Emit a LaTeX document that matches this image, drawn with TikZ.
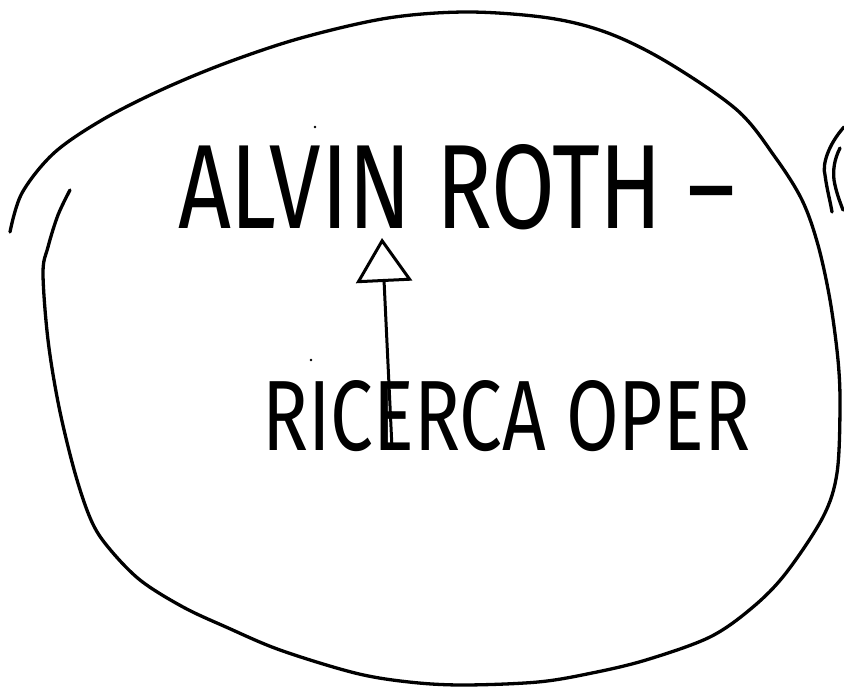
\documentclass[tikz,border=0pt]{standalone}
\usepackage{fontspec}
\newfontfamily\hand{Fira Sans}
\usetikzlibrary{arrows.meta}
\begin{document}
\begin{tikzpicture}[x=1pt,y=-1pt,
  stroke/.style={line width=3.3pt, line cap=round, line join=round},
  label/.style={inner sep=0pt, outer sep=0pt, anchor=south west}]
\useasboundingbox (0,0) rectangle (844,688);
% big open blob
\draw[stroke] plot[smooth, tension=0.55] coordinates {
 (10,232) (22,193) (54,153) (102,120) (161,90) (226,63) (301,38) (388,18)
 (468,12) (549,18) (608,33) (667,62) (737,110) (775,157) (802,200) (818,245)
 (830,300) (838,360) (840,407) (837,473) (823,517) (786,573) (753,607)
 (710,637) (646,660) (592,673) (538,682) (463,685) (409,682) (355,673)
 (280,650) (226,627) (183,607) (140,580) (108,547) (91,520) (75,473)
 (59,407) (48,340) (43,273) (48,247) (58,215) (70,190)};
% partial strokes at right edge
\draw[stroke] (844,127) .. controls (828,145) and (822,165) .. (825,175) .. controls (827,190) and (830,200) .. (832,212);
\draw[stroke] (840,148) .. controls (834,160) and (833,170) .. (834,180) .. controls (836,192) and (840,202) .. (843,210);
% dots
\fill (315,127) circle (1.3);
\fill (311,360) circle (1.3);
% texts
\node[label] (alvin) at (178,230) {\resizebox{557pt}{84pt}{\hand ALVIN ROTH –}};
\node[label] (ricerca) at (262,452) {\resizebox{488pt}{70pt}{\hand RICERCA OPER}};
% arrow
\coordinate (tail) at (392,448);
\coordinate (tip) at (382,238);
\draw[line width=3pt, line cap=round, line join=round,
  -{Triangle[open, length=44pt, width=56pt, line width=3pt]}] (tail) -- (tip);
\end{tikzpicture}
\end{document}
